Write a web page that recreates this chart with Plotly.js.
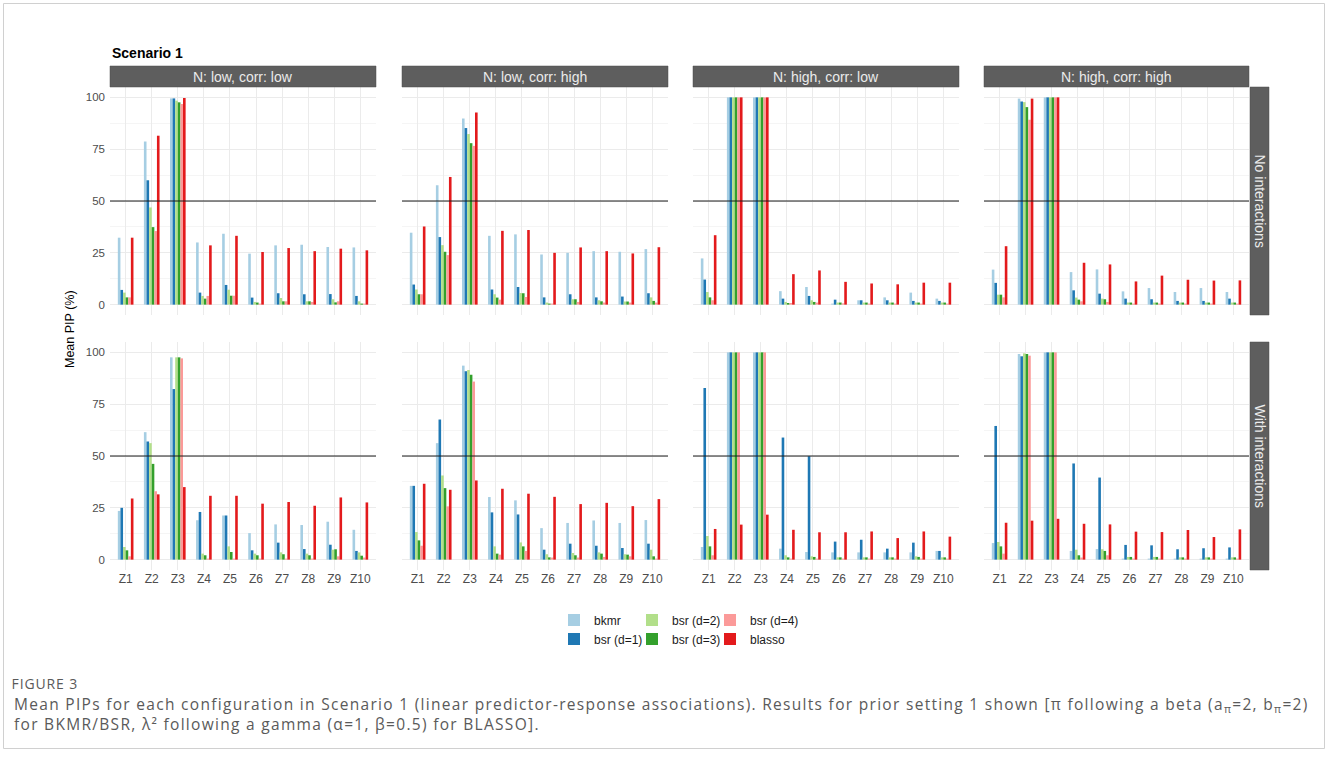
<!DOCTYPE html>
<html>
<head>
<meta charset="utf-8">
<script src="https://cdn.plot.ly/plotly-3.0.1.min.js"></script>
<style>html,body{margin:0;padding:0;background:#fff}#chart{width:1328px;height:757px}</style>
</head>
<body>
<div id="chart"></div>
<script>
// ---------- data ----------
const predictors = ['Z1','Z2','Z3','Z4','Z5','Z6','Z7','Z8','Z9','Z10'];
const methods = ['bkmr','bsr (d=1)','bsr (d=2)','bsr (d=3)','bsr (d=4)','blasso'];
const columnLabels = ['N: low, corr: low','N: low, corr: high','N: high, corr: low','N: high, corr: high'];
const rowLabels = ['No interactions','With interactions'];
const yTickValues = [0, 25, 50, 75, 100];
const threshold = 50;

// each panel: one row per method (same order as `methods`), one value per predictor (Mean PIP, %)
const noInt_lowN_lowCorr = [
  [32.3, 78.7, 99.5, 30.0, 34.2, 24.6, 28.6, 28.9, 27.8, 27.6],
  [ 7.1, 60.0, 99.5,  5.8,  9.5,  3.4,  5.5,  5.0,  5.1,  4.2],
  [ 5.8, 46.9, 98.4,  4.2,  7.2,  1.3,  3.2,  1.6,  2.6,  1.6],
  [ 3.5, 37.4, 97.6,  2.9,  4.3,  1.0,  1.6,  1.6,  1.1,  0.5],
  [ 3.5, 35.5, 96.8,  4.2,  4.3,  0.5,  1.6,  1.3,  1.6,  0.5],
  [32.3, 81.5, 99.7, 28.6, 33.2, 25.4, 27.3, 25.8, 27.0, 26.2]
];
const noInt_lowN_highCorr = [
  [34.7, 57.6, 89.8, 33.2, 33.9, 24.2, 25.0, 25.8, 25.5, 26.8],
  [ 9.7, 32.6, 85.2,  7.3,  8.5,  3.5,  5.0,  3.5,  3.9,  5.5],
  [ 7.3, 28.7, 82.3,  5.0,  5.6,  1.0,  2.6,  2.1,  1.5,  3.5],
  [ 5.0, 25.5, 77.9,  3.4,  5.5,  0.5,  2.6,  1.6,  1.5,  1.8],
  [ 5.0, 23.9, 76.6,  2.4,  3.7,  0.5,  1.3,  1.0,  1.0,  1.0],
  [37.7, 61.6, 92.7, 35.6, 36.0, 25.0, 27.6, 25.8, 24.7, 27.7]
];
const noInt_highN_lowCorr = [
  [22.3, 100, 100, 6.5,  8.5,  0.5,  2.1,  3.5,  5.8,  2.9],
  [12.1, 100, 100, 2.9,  4.2,  2.4,  2.1,  2.1,  1.8,  1.8],
  [ 6.1, 100, 100, 1.3,  2.1,  1.0,  1.0,  1.0,  1.0,  1.0],
  [ 3.5, 100, 100, 0.8,  1.3,  1.0,  1.0,  1.0,  1.0,  1.0],
  [ 2.1, 100, 100, 0.8,  1.0,  0.6,  0.5,  0.5,  0.5,  0.5],
  [33.5, 100, 100, 14.7, 16.5, 11.0, 10.2,  9.8, 10.6, 10.6]
];
const noInt_highN_highCorr = [
  [16.9, 99.4, 100, 15.7, 17.0,  6.4,  8.0,  6.1,  8.0,  6.1],
  [10.5, 98.0, 100,  6.9,  5.3,  2.9,  2.6,  1.8,  1.8,  2.9],
  [ 4.8, 97.7, 100,  3.4,  2.9,  1.0,  1.0,  1.0,  1.0,  1.0],
  [ 4.8, 95.3, 100,  2.4,  2.6,  1.0,  1.0,  1.0,  1.0,  1.0],
  [ 3.5, 89.2, 100,  1.6,  1.3,  0.5,  0.5,  0.5,  0.5,  0.5],
  [28.2, 99.4, 100, 20.2, 19.4, 11.2, 14.0, 12.0, 11.6, 11.7]
];
const withInt_lowN_lowCorr = [
  [23.5, 61.5, 97.6, 19.0, 21.3, 12.8, 17.0, 16.7, 18.3, 14.4],
  [25.0, 57.0, 82.3, 23.0, 21.3,  4.5,  8.2,  5.1,  7.2,  4.2],
  [ 6.1, 56.2, 97.6,  2.9,  6.4,  2.9,  3.5,  2.9,  4.8,  3.5],
  [ 4.5, 46.2, 97.6,  2.1,  3.7,  2.1,  2.6,  2.1,  5.0,  1.9],
  [ 1.6, 33.0, 97.1,  0.5,  0.5,  0.5,  0.5,  0.5,  1.6,  1.0],
  [29.5, 31.5, 35.0, 30.8, 30.8, 27.0, 27.8, 26.0, 30.0, 27.6]
];
const withInt_lowN_highCorr = [
  [35.6, 56.2, 93.6, 30.2, 28.6, 15.2, 17.7, 18.9, 17.7, 19.1],
  [35.6, 67.6, 90.9, 22.8, 21.8,  4.8,  7.7,  6.7,  5.6,  7.7],
  [13.3, 40.6, 91.5,  6.4,  8.3,  2.6,  3.2,  3.5,  2.6,  4.8],
  [ 9.3, 34.5, 89.2,  2.9,  6.4,  1.1,  2.1,  2.9,  2.4,  1.6],
  [ 6.7, 25.7, 85.9,  2.4,  4.2,  1.0,  1.0,  1.3,  1.6,  0.5],
  [36.6, 33.7, 38.2, 34.2, 31.8, 30.3, 26.8, 27.4, 25.8, 29.2]
];
const withInt_highN_lowCorr = [
  [ 6.1, 100, 100,  5.3,  3.7,  3.5,  3.5,  3.5,  3.5,  4.2],
  [82.8, 100, 100, 58.9, 49.9,  8.7,  9.6,  5.3,  8.2,  4.2],
  [11.4, 100, 100,  2.1,  1.6,  1.1,  1.1,  1.1,  1.6,  1.1],
  [ 6.4, 100, 100,  1.1,  1.3,  1.1,  1.1,  1.1,  1.3,  1.1],
  [ 2.1, 100, 100,  0.5,  0.5,  0.5,  0.5,  0.5,  0.5,  0.5],
  [14.8, 16.9, 21.7, 14.4, 13.2, 13.2, 13.6, 10.4, 13.6, 11.1]
];
const withInt_highN_highCorr = [
  [ 8.0, 99.2, 100,  4.2,  5.1,  0.5,  0.5,  0.5,  0.5,  0.5],
  [64.5, 98.1, 100, 46.4, 39.6,  7.1,  6.9,  5.0,  5.5,  5.9],
  [ 8.5, 99.5, 100,  4.8,  5.0,  1.3,  1.3,  1.1,  1.1,  1.1],
  [ 6.4, 99.2, 100,  2.1,  4.2,  1.3,  1.3,  1.1,  1.1,  1.1],
  [ 2.9, 98.4, 100,  1.0,  2.1,  0.5,  0.5,  0.5,  0.5,  0.5],
  [17.8, 18.8, 19.7, 17.3, 17.0, 13.5, 13.3, 14.3, 10.9, 14.6]
];

const panelGrid = [
  [noInt_lowN_lowCorr, noInt_lowN_highCorr, noInt_highN_lowCorr, noInt_highN_highCorr],
  [withInt_lowN_lowCorr, withInt_lowN_highCorr, withInt_highN_lowCorr, withInt_highN_highCorr]
];

// ---------- style / geometry (pixels) ----------
const W = 1328, H = 757;
const methodColors = ['#A6CEE3','#1F78B4','#B2DF8A','#33A02C','#FB9A99','#E31A1C'];
const methodLegend = ['legend','legend','legend2','legend2','legend3','legend3'];
const colX = [[110,376],[402,668],[693,959],[984,1249]];
const rowY = [[87,315],[342,570]];
const stripTop = [66,87];
const rightStripX = [1250,1269];
const FONT = 'Liberation Sans, Arial, sans-serif';
const CAPFONT = 'Open Sans, Noto Sans, sans-serif';
const px = v => v / W;
const py = v => 1 - v / H;

const traces = [];
const layout = {
  width: W, height: H,
  margin: {l:0, r:0, t:0, b:0},
  paper_bgcolor: '#ffffff', plot_bgcolor: '#ffffff',
  barmode: 'group', bargap: 0.4, bargroupgap: 0,
  font: {family: FONT, color: '#4d4d4d'},
  showlegend: true,
  shapes: [], annotations: []
};

for (let r = 0; r < 2; r++) {
  for (let c = 0; c < 4; c++) {
    const idx = r * 4 + c + 1;
    const s = idx === 1 ? '' : String(idx);
    const panel = panelGrid[r][c];
    methods.forEach((m, k) => {
      traces.push({
        type: 'bar', x: predictors, y: panel[k], name: m,
        xaxis: 'x' + s, yaxis: 'y' + s,
        marker: {color: methodColors[k], line: {width: 0}},
        showlegend: idx === 1, legend: methodLegend[k],
        hovertemplate: m + ' %{x}: %{y}<extra></extra>'
      });
    });
    layout['xaxis' + s] = {
      domain: [px(colX[c][0]), px(colX[c][1])], anchor: 'y' + s,
      type: 'category', range: [-0.6, 9.6],
      showgrid: true, gridcolor: '#ebebeb', gridwidth: 1,
      zeroline: false, showline: false, ticks: '',
      showticklabels: r === 1,
      tickfont: {family: FONT, size: 12, color: '#4d4d4d'}
    };
    layout['yaxis' + s] = {
      domain: [py(rowY[r][1]), py(rowY[r][0])], anchor: 'x' + s,
      range: [-5, 105], tickmode: 'array', tickvals: yTickValues,
      showgrid: true, gridcolor: '#ebebeb', gridwidth: 1,
      minor: {tickmode: 'linear', tick0: 0, dtick: 12.5, showgrid: true, gridcolor: '#f5f5f5', gridwidth: 1},
      zeroline: false, showline: false, ticks: '',
      showticklabels: c === 0, ticklabelstandoff: 4,
      tickfont: {family: FONT, size: 11.5, color: '#4d4d4d'}
    };
    layout.shapes.push({
      type: 'line', xref: 'x' + s + ' domain', x0: 0, x1: 1,
      yref: 'y' + s, y0: threshold, y1: threshold,
      line: {color: '#1a1a1a', width: 1}, layer: 'above'
    });
  }
}

// top strips
colX.forEach((cx, c) => {
  layout.shapes.push({type: 'rect', xref: 'paper', yref: 'paper',
    x0: px(cx[0]), x1: px(cx[1]), y0: py(stripTop[1]), y1: py(stripTop[0]),
    fillcolor: '#5e5e5e', line: {color: '#4f4f4f', width: 0.5}});
  layout.annotations.push({xref: 'paper', yref: 'paper', x: px((cx[0] + cx[1]) / 2),
    y: py((stripTop[0] + stripTop[1]) / 2), text: columnLabels[c], showarrow: false,
    xanchor: 'center', yanchor: 'middle', font: {family: FONT, size: 14, color: '#ebebeb'}});
});
// right strips
rowY.forEach((ry, r) => {
  layout.shapes.push({type: 'rect', xref: 'paper', yref: 'paper',
    x0: px(rightStripX[0]), x1: px(rightStripX[1]), y0: py(ry[1]), y1: py(ry[0]),
    fillcolor: '#5e5e5e', line: {color: '#4f4f4f', width: 0.5}});
  layout.annotations.push({xref: 'paper', yref: 'paper', x: px((rightStripX[0] + rightStripX[1]) / 2),
    y: py((ry[0] + ry[1]) / 2), text: rowLabels[r], showarrow: false, textangle: 90,
    xanchor: 'center', yanchor: 'middle', font: {family: FONT, size: 14, color: '#ebebeb'}});
});

// outer frame
layout.shapes.push({type: 'rect', xref: 'paper', yref: 'paper', layer: 'below',
  x0: px(3.5), x1: px(1324.5), y0: py(748.5), y1: py(3.5),
  line: {color: '#d0d0d0', width: 1}, fillcolor: 'rgba(0,0,0,0)'});

// titles
layout.annotations.push({xref: 'paper', yref: 'paper', x: px(110), y: py(53),
  text: '<b>Scenario 1</b>', showarrow: false, xanchor: 'left', yanchor: 'middle',
  font: {family: FONT, size: 14, color: '#000'}});
layout.annotations.push({xref: 'paper', yref: 'paper', x: px(70), y: py(329),
  text: 'Mean PIP (%)', showarrow: false, textangle: -90, xanchor: 'center', yanchor: 'middle',
  font: {family: FONT, size: 12.5, color: '#000'}});

// caption
const figureLabel = 'FIGURE 3';
const captionLines = [
  'Mean PIPs for each configuration in Scenario 1 (linear predictor-response associations). Results for prior setting 1 shown [π following a beta (a<sub>π</sub>=2, b<sub>π</sub>=2)',
  'for BKMR/BSR, λ² following a gamma (α=1, β=0.5) for BLASSO].'
];
const spacing = {};
spacing[layout.annotations.length] = 0.85;
layout.annotations.push({xref: 'paper', yref: 'paper', x: px(13), y: py(683),
  text: figureLabel, showarrow: false, xanchor: 'left', yanchor: 'middle',
  font: {family: CAPFONT, size: 14, color: '#5a5a5a'}});
spacing[layout.annotations.length] = 1.3;
layout.annotations.push({xref: 'paper', yref: 'paper', x: px(12), y: py(714),
  text: captionLines.join('<br>'), showarrow: false, xanchor: 'left', yanchor: 'middle', align: 'left',
  font: {family: CAPFONT, size: 15.5, color: '#5a5a5a'}});

const st = document.createElement('style');
st.textContent = Object.keys(spacing).map(i => 'g.annotation[data-index="' + i + '"] text{letter-spacing:' + spacing[i] + 'px}').join('\n');
document.head.appendChild(st);

// legends: three columns of two entries
const legendBase = {orientation: 'v', xanchor: 'left', yanchor: 'middle', y: py(629.5),
  bgcolor: 'rgba(0,0,0,0)', tracegroupgap: 0,
  font: {family: FONT, size: 12, color: '#1a1a1a'}, itemclick: false, itemdoubleclick: false};
layout.legend  = Object.assign({}, legendBase, {x: px(554)});
layout.legend2 = Object.assign({}, legendBase, {x: px(632)});
layout.legend3 = Object.assign({}, legendBase, {x: px(710)});

Plotly.newPlot('chart', traces, layout, {displayModeBar: false, staticPlot: true});
</script>
</body>
</html>
